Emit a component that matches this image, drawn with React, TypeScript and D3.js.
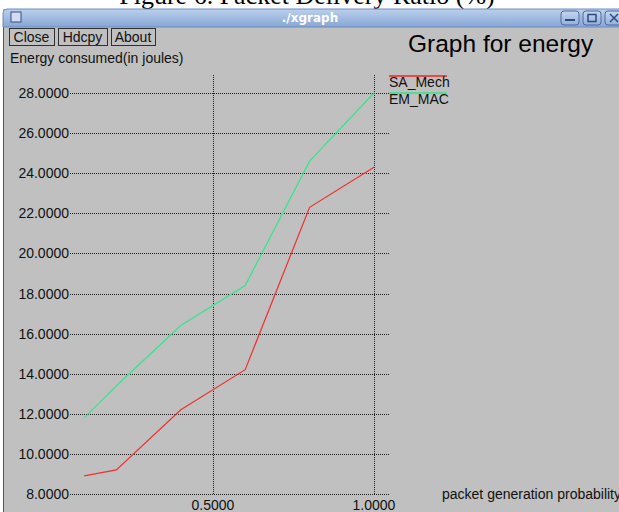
import React from "react";
import * as d3 from "d3";

// Packet generation probabilities (x) and energy consumed per protocol (y)
const probabilities = [0.1, 0.2, 0.4, 0.6, 0.8, 1.0];
const saMech = [8.9, 9.2, 12.2, 14.2, 22.3, 24.3];
const emMac = [11.8, 13.4, 16.4, 18.4, 24.6, 28.0];

const yTicks = [8, 10, 12, 14, 16, 18, 20, 22, 24, 26, 28];
const xTicks = [0.5, 1.0];

const seriesNames = ["SA_Mech", "EM_MAC"];
const seriesColors = ["#ee3030", "#33e68a"];

const W = 619;
const H = 512;

const SANS = "'Liberation Sans', Arial, Helvetica, sans-serif";

export default function App() {
  const x = d3.scaleLinear().domain([0, 1]).range([52, 374]);
  const y = d3.scaleLinear().domain([8, 28]).range([494, 93]);

  const gridLeft = 70;
  const gridRight = 390;
  const gridTop = 75;

  const line = d3
    .line<[number, number]>()
    .x((d) => x(d[0]))
    .y((d) => y(d[1]));

  const series = [saMech, emMac].map((vals) =>
    probabilities.map((p, i) => [p, vals[i]] as [number, number])
  );

  const fmt = d3.format(".4f");

  return (
    <svg
      width={W}
      height={H}
      style={{ position: "absolute", left: 0, top: 0, background: "#ffffff" }}
    >
      <defs>
        <linearGradient id="titlebar" x1="0" y1="0" x2="0" y2="1">
          <stop offset="0" stopColor="#bcd0ec" />
          <stop offset="1" stopColor="#87a6d6" />
        </linearGradient>
        <linearGradient id="wbtn" x1="0" y1="0" x2="0" y2="1">
          <stop offset="0" stopColor="#c6d6ee" />
          <stop offset="1" stopColor="#93afdc" />
        </linearGradient>
      </defs>

      {/* document caption behind the window */}
      <text
        x={307}
        y={4}
        textAnchor="middle"
        fontFamily="'Liberation Serif', 'Times New Roman', serif"
        fontSize={26}
        fill="#000"
      >
        Figure 6. Packet Delivery Ratio (%)
      </text>

      {/* window body */}
      <rect x={3} y={9} width={W} height={H} fill="#c0c0c0" />
      <line x1={3.5} y1={12} x2={3.5} y2={H} stroke="#555" strokeWidth={1} />

      {/* title bar */}
      <path
        d={`M3,${27} L3,13 Q3,9 7,9 L${W + 5},9 L${W + 5},27 Z`}
        fill="url(#titlebar)"
        stroke="#6d8cc0"
        strokeWidth={1}
      />
      <rect x={11} y={12} width={10} height={10} fill="#d4dcf0" stroke="#3a4f86" strokeWidth={1} />
      <text
        x={310}
        y={22}
        textAnchor="middle"
        fontFamily="'DejaVu Sans', sans-serif"
        fontWeight="bold"
        fontSize={12}
        fill="#ffffff"
      >
        ./xgraph
      </text>
      {/* window controls */}
      {[561, 583, 605].map((bx, i) => (
        <g key={i}>
          <rect x={bx} y={11} width={18} height={14} rx={3} fill="url(#wbtn)" stroke="#4d6aa0" />
          {i === 0 && <rect x={bx + 4} y={19} width={10} height={2} fill="#2e4a80" />}
          {i === 1 && (
            <rect x={bx + 5} y={14.5} width={8} height={7} fill="none" stroke="#2e4a80" strokeWidth={1.5} />
          )}
          {i === 2 && (
            <path d={`M${bx + 5},${14} L${bx + 13},${22} M${bx + 13},${14} L${bx + 5},${22}`} stroke="#2e4a80" strokeWidth={1.5} />
          )}
        </g>
      ))}

      {/* buttons */}
      {[
        { label: "Close", x0: 9, x1: 54 },
        { label: "Hdcpy", x0: 58, x1: 107 },
        { label: "About", x0: 111, x1: 155 },
      ].map((b) => (
        <g key={b.label}>
          <rect x={b.x0 + 0.5} y={28.5} width={b.x1 - b.x0} height={17} fill="#c0c0c0" stroke="#303030" />
          <text
            x={(b.x0 + b.x1) / 2}
            y={42}
            textAnchor="middle"
            fontFamily={SANS}
            fontSize={14}
            fill="#111"
          >
            {b.label}
          </text>
        </g>
      ))}

      {/* plot title */}
      <text x={408} y={52} fontFamily={SANS} fontSize={24.5} fill="#000">
        Graph for energy
      </text>

      {/* y axis title */}
      <text x={10} y={63} fontFamily={SANS} fontSize={14} fill="#111">
        Energy consumed(in joules)
      </text>

      {/* horizontal grid lines and y tick labels */}
      {yTicks.map((t) => (
        <g key={t}>
          <line
            x1={gridLeft}
            x2={gridRight}
            y1={Math.round(y(t)) + 0.5}
            y2={Math.round(y(t)) + 0.5}
            stroke="#202020"
            strokeWidth={1}
            strokeDasharray="1,1"
          />
          <text
            x={69}
            y={y(t) + 5}
            textAnchor="end"
            fontFamily={SANS}
            fontSize={14}
            fill="#111"
          >
            {fmt(t)}
          </text>
        </g>
      ))}

      {/* vertical grid lines and x tick labels */}
      {xTicks.map((t) => (
        <g key={t}>
          <line
            x1={Math.round(x(t)) + 0.5}
            x2={Math.round(x(t)) + 0.5}
            y1={gridTop}
            y2={y(8)}
            stroke="#202020"
            strokeWidth={1}
            strokeDasharray="1,1"
          />
          <text
            x={x(t)}
            y={510}
            textAnchor="middle"
            fontFamily={SANS}
            fontSize={14}
            fill="#111"
          >
            {fmt(t)}
          </text>
        </g>
      ))}

      {/* x axis title */}
      <text x={442} y={499} fontFamily={SANS} fontSize={14} fill="#111">
        packet generation probability
      </text>

      {/* data lines */}
      {series.map((pts, i) => (
        <path key={i} d={line(pts) ?? ""} fill="none" stroke={seriesColors[i]} strokeWidth={1.2} />
      ))}

      {/* legend */}
      {seriesNames.map((name, i) => (
        <g key={name}>
          <line
            x1={389}
            x2={447}
            y1={76 + i * 17}
            y2={76 + i * 17}
            stroke={seriesColors[i]}
            strokeWidth={2}
            opacity={0.8}
          />
          <text x={389} y={87 + i * 16.5} fontFamily={SANS} fontSize={14} fill="#111">
            {name}
          </text>
        </g>
      ))}
    </svg>
  );
}
